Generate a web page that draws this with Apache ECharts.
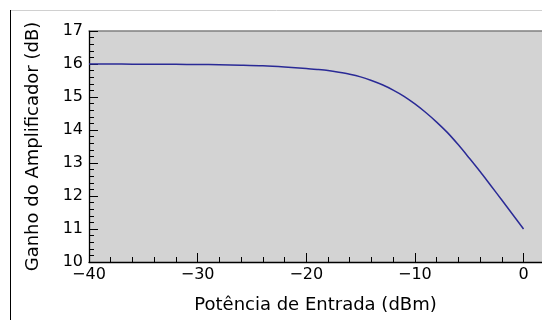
<!DOCTYPE html>
<html>
<head>
<meta charset="utf-8">
<script src="https://cdn.jsdelivr.net/npm/echarts@6/dist/echarts.min.js"></script>
<style>
html,body{margin:0;padding:0;background:#fff;overflow:hidden;}
#c{width:542px;height:320px;}
</style>
</head>
<body>
<div id="c"></div>
<script>
const inputPower = [-40,-38,-36,-34,-32,-30,-28,-26,-24,-22,-20,-19,-18,-17,-16,-15,-14,-13,-12,-11,-10,-9,-8,-7,-6,-5,-4,-3,-2,-1,0];
const gain = [16.00,16.00,15.995,15.99,15.99,15.985,15.98,15.965,15.945,15.91,15.865,15.835,15.80,15.75,15.69,15.61,15.50,15.37,15.21,15.02,14.79,14.53,14.24,13.92,13.55,13.15,12.74,12.31,11.88,11.44,11.00];
const xTitle = 'Potência de Entrada (dBm)';
const yTitle = 'Ganho do Amplificador (dB)';

const chart = echarts.init(document.getElementById('c'), null, {renderer:'canvas'});
const font = 'DejaVu Sans';
const minus = v => String(v).replace('-', '\u2212');
chart.setOption({
  animation: false,
  backgroundColor: '#fff',
  grid: {left: 89, top: 31, bottom: 58, right: 0, show: true, backgroundColor: '#d3d3d3', borderWidth: 0},
  graphic: [
    {type:'line', shape:{x1:10.5,y1:10,x2:10.5,y2:320}, style:{stroke:'#000', lineWidth:1}},
    {type:'line', shape:{x1:11,y1:10.5,x2:542,y2:10.5}, style:{stroke:'#d0d0d0', lineWidth:1}}
  ],
  xAxis: [{
    type: 'value', min: -40, max: 1.7, interval: 10,
    name: xTitle, nameLocation: 'middle', nameGap: 34,
    nameTextStyle: {fontFamily: font, fontSize: 18, color: '#000'},
    axisLine: {show: true, onZero: false, lineStyle: {color: '#000', width: 1.3}},
    axisTick: {show: true, inside: true, length: 9, lineStyle: {color: '#000', width: 1}},
    minorTick: {show: true, splitNumber: 5, length: 5, lineStyle: {color: '#000', width: 1}},
    axisLabel: {showMaxLabel: false, fontFamily: font, fontSize: 16, color: '#000', margin: 5, formatter: minus},
    splitLine: {show: false}
  }, {
    type: 'value', position: 'top', min: -40, max: 1.7,
    axisLine: {show: true, lineStyle: {color: '#808080', width: 1.5}},
    axisTick: {show: false}, axisLabel: {show: false}, splitLine: {show: false}
  }],
  yAxis: {
    type: 'value', min: 10, max: 17, interval: 1,
    name: yTitle, nameLocation: 'middle', nameGap: 47,
    nameTextStyle: {fontFamily: font, fontSize: 18, color: '#000'},
    axisLine: {show: true, onZero: false, lineStyle: {color: '#000', width: 1.3}},
    axisTick: {show: true, inside: true, length: 9, lineStyle: {color: '#000', width: 1}},
    minorTick: {show: true, splitNumber: 5, length: 5, lineStyle: {color: '#000', width: 1}},
    axisLabel: {fontFamily: font, fontSize: 16, color: '#000', margin: 6},
    splitLine: {show: false}
  },
  series: [{
    type: 'line', xAxisIndex: 0,
    data: inputPower.map((p, i) => [p, gain[i]]),
    showSymbol: false, smooth: 0.3,
    lineStyle: {color: '#2a2a96', width: 1.5}
  }]
});
</script>
</body>
</html>
